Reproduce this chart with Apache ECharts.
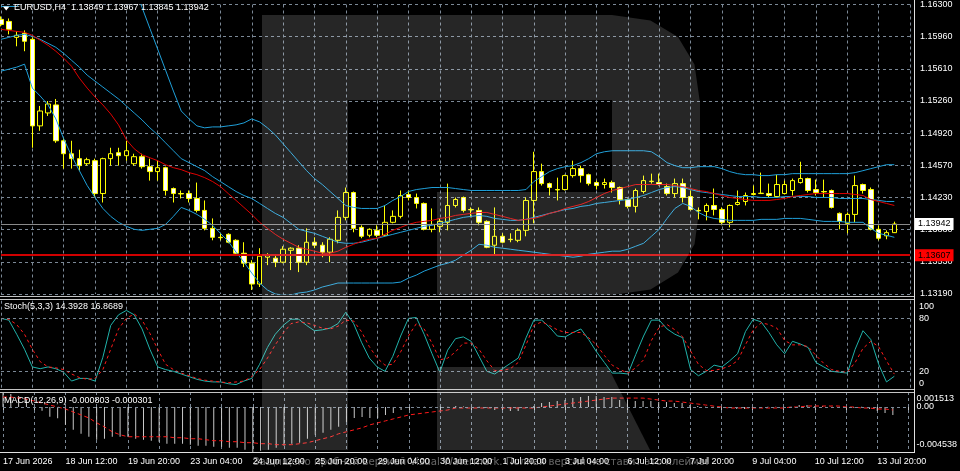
<!DOCTYPE html>
<html><head><meta charset="utf-8">
<script src="https://cdn.jsdelivr.net/npm/echarts@6/dist/echarts.min.js"></script>
<style>html,body{margin:0;padding:0;background:#000;}#c{width:960px;height:471px;}</style>
</head><body><div id="c"></div>
<script>
const xLabels = ['17 Jun 2026','18 Jun 12:00','19 Jun 20:00','23 Jun 04:00','24 Jun 12:00','25 Jun 20:00','29 Jun 04:00','30 Jun 12:00','1 Jul 20:00','3 Jul 04:00','6 Jul 12:00','7 Jul 20:00','9 Jul 04:00','10 Jul 12:00','13 Jul 20:00'];
const priceTicks = ['1.13190','1.13530','1.13880','1.14230','1.14570','1.14920','1.15260','1.15610','1.15960','1.16300'];
const priceMin = 1.1319, priceMax = 1.163;
const stochTicks = [0, 20, 80, 100];
const macdTicks = ['-0.004538', '0.00', '0.001513'];
const macdMin = -0.004538, macdMax = 0.001513;
const bidPrice = 1.13942, levelPrice = 1.13607;

const open = [1.16140,1.16118,1.15947,1.15990,1.15926,1.14996,1.15135,1.15221,1.14836,1.14697,
1.14644,1.14590,1.14622,1.14269,1.14644,1.14708,1.14676,1.14590,1.14665,1.14558,
1.14505,1.14547,1.14323,1.14269,1.14269,1.14216,1.14088,1.13895,1.13799,1.13831,
1.13767,1.13628,1.13521,1.13297,1.13585,1.13575,1.13532,1.13660,1.13682,1.13532,
1.13746,1.13714,1.13639,1.13767,1.14013,1.14280,1.13906,1.13821,1.13874,1.13821,
1.13960,1.14024,1.14259,1.14227,1.14163,1.13885,1.13917,1.13960,1.14141,1.14227,
1.14098,1.14088,1.13970,1.13714,1.13810,1.13778,1.13767,1.13874,1.14195,1.14505,
1.14376,1.14312,1.14312,1.14462,1.14537,1.14472,1.14387,1.14366,1.14387,1.14334,
1.14205,1.14131,1.14291,1.14398,1.14387,1.14344,1.14269,1.14376,1.14237,1.14088,
1.14077,1.14141,1.14098,1.13960,1.14152,1.14184,1.14259,1.14269,1.14269,1.14237,
1.14269,1.14302,1.14387,1.14430,1.14312,1.14291,1.14302,1.14056,1.13949,1.14045,
1.14366,1.14312,1.13885,1.13815,1.13849];
const high = [1.16172,1.16150,1.16011,1.16022,1.15947,1.15210,1.15263,1.15285,1.14868,1.14836,
1.14740,1.14654,1.14644,1.14654,1.14761,1.14761,1.14836,1.14697,1.14697,1.14644,
1.14622,1.14558,1.14334,1.14302,1.14302,1.14387,1.14195,1.14002,1.13842,1.13842,
1.13778,1.13746,1.13553,1.13682,1.13628,1.13607,1.13703,1.13692,1.13714,1.13895,
1.13799,1.13746,1.13799,1.14088,1.14334,1.14291,1.13928,1.13895,1.13928,1.14141,
1.14088,1.14302,1.14302,1.14269,1.14173,1.14109,1.14002,1.14376,1.14227,1.14237,
1.14120,1.14120,1.13981,1.14120,1.13842,1.13842,1.13895,1.14227,1.14718,1.14590,
1.14387,1.14440,1.14472,1.14622,1.14569,1.14483,1.14408,1.14430,1.14408,1.14344,
1.14216,1.14323,1.14462,1.14483,1.14483,1.14376,1.14430,1.14430,1.14302,1.14120,
1.14163,1.14323,1.14120,1.14152,1.14302,1.14280,1.14355,1.14494,1.14376,1.14472,
1.14408,1.14430,1.14611,1.14440,1.14419,1.14419,1.14312,1.14066,1.14066,1.14462,
1.14376,1.14334,1.13928,1.13874,1.13967];
const low = [1.16065,1.15979,1.15851,1.15798,1.14761,1.14943,1.15103,1.14814,1.14537,1.14537,
1.14515,1.14569,1.14227,1.14173,1.14569,1.14569,1.14622,1.14569,1.14537,1.14408,
1.14408,1.14248,1.14173,1.14216,1.14173,1.14066,1.13874,1.13767,1.13767,1.13735,
1.13607,1.13479,1.13233,1.13265,1.13500,1.13479,1.13521,1.13447,1.13425,1.13500,
1.13682,1.13585,1.13532,1.13735,1.13981,1.13853,1.13789,1.13799,1.13799,1.13810,
1.13949,1.14002,1.14195,1.14109,1.13874,1.13853,1.13853,1.13874,1.14120,1.14066,
1.14013,1.13928,1.13682,1.13607,1.13735,1.13746,1.13746,1.13810,1.13949,1.14355,
1.14248,1.14195,1.14302,1.14440,1.14387,1.14355,1.14312,1.14323,1.14280,1.14152,
1.14109,1.14066,1.14269,1.14376,1.14355,1.14248,1.14227,1.14173,1.14088,1.13992,
1.13981,1.14034,1.13928,1.13906,1.14141,1.14141,1.14248,1.14265,1.14227,1.14227,
1.14259,1.14248,1.14376,1.14280,1.14248,1.14227,1.14109,1.13885,1.13842,1.13960,
1.14269,1.13874,1.13767,1.13778,1.13845];
const close = [1.16086,1.16033,1.15969,1.15905,1.14996,1.15156,1.15231,1.14836,1.14697,1.14644,
1.14569,1.14633,1.14269,1.14644,1.14697,1.14676,1.14729,1.14665,1.14558,1.14505,
1.14547,1.14302,1.14269,1.14265,1.14216,1.14088,1.13895,1.13799,1.13795,1.13746,
1.13628,1.13521,1.13297,1.13596,1.13607,1.13532,1.13671,1.13682,1.13532,1.13746,
1.13714,1.13639,1.13778,1.14013,1.14280,1.13895,1.13810,1.13885,1.13821,1.13960,
1.14024,1.14248,1.14227,1.14163,1.13885,1.13938,1.13970,1.14141,1.14205,1.14088,
1.14094,1.13960,1.13692,1.13810,1.13746,1.13774,1.13874,1.14195,1.14505,1.14376,
1.14334,1.14308,1.14462,1.14537,1.14462,1.14376,1.14355,1.14387,1.14334,1.14205,
1.14131,1.14302,1.14408,1.14402,1.14366,1.14269,1.14376,1.14227,1.14098,1.14084,
1.14141,1.14098,1.13960,1.14141,1.14173,1.14248,1.14269,1.14273,1.14248,1.14366,
1.14366,1.14408,1.14430,1.14302,1.14280,1.14287,1.14120,1.13970,1.14045,1.14355,
1.14302,1.13885,1.13789,1.13849,1.13942];

const bbUpper = [1.16279,1.16279,1.16279,1.16364,1.16524,1.16653,1.16759,1.16866,1.16952,1.17005,
1.17037,1.17059,1.17080,1.17080,1.17059,1.16952,1.16727,1.16503,1.16268,1.16043,
1.15819,1.15595,1.15370,1.15156,1.15071,1.14996,1.14975,1.14985,1.14985,1.14996,
1.15007,1.15028,1.15071,1.15039,1.14975,1.14900,1.14804,1.14708,1.14611,1.14515,
1.14430,1.14366,1.14291,1.14216,1.14141,1.14120,1.14109,1.14109,1.14109,1.14141,
1.14195,1.14237,1.14291,1.14312,1.14323,1.14334,1.14334,1.14334,1.14323,1.14312,
1.14302,1.14302,1.14302,1.14302,1.14302,1.14302,1.14302,1.14312,1.14398,1.14451,
1.14505,1.14537,1.14558,1.14569,1.14601,1.14644,1.14697,1.14718,1.14729,1.14729,
1.14729,1.14729,1.14729,1.14718,1.14665,1.14601,1.14569,1.14547,1.14547,1.14558,
1.14558,1.14558,1.14537,1.14505,1.14483,1.14472,1.14472,1.14462,1.14462,1.14472,
1.14472,1.14483,1.14483,1.14483,1.14483,1.14483,1.14483,1.14483,1.14483,1.14494,
1.14515,1.14537,1.14558,1.14579,1.14579];
const maRed = [1.16033,1.16022,1.16011,1.16001,1.15969,1.15916,1.15862,1.15798,1.15723,1.15637,
1.15509,1.15402,1.15306,1.15221,1.15124,1.15007,1.14847,1.14750,1.14686,1.14654,
1.14622,1.14579,1.14547,1.14526,1.14494,1.14472,1.14440,1.14398,1.14344,1.14269,
1.14195,1.14120,1.14045,1.13960,1.13895,1.13831,1.13778,1.13735,1.13692,1.13671,
1.13650,1.13628,1.13628,1.13650,1.13692,1.13724,1.13756,1.13778,1.13789,1.13831,
1.13874,1.13906,1.13938,1.13960,1.13970,1.13981,1.14002,1.14013,1.14034,1.14045,
1.14056,1.14066,1.14066,1.14045,1.14024,1.14002,1.13981,1.13992,1.14002,1.14024,
1.14056,1.14077,1.14109,1.14131,1.14152,1.14184,1.14227,1.14269,1.14302,1.14323,
1.14344,1.14366,1.14366,1.14366,1.14366,1.14366,1.14355,1.14344,1.14323,1.14302,
1.14291,1.14269,1.14248,1.14227,1.14216,1.14205,1.14195,1.14195,1.14195,1.14205,
1.14216,1.14237,1.14248,1.14259,1.14269,1.14269,1.14269,1.14269,1.14269,1.14259,
1.14248,1.14205,1.14184,1.14163,1.14141];
const maCyan = [1.15926,1.15947,1.15969,1.15979,1.15958,1.15926,1.15883,1.15840,1.15775,1.15701,
1.15627,1.15541,1.15477,1.15413,1.15349,1.15285,1.15210,1.15135,1.15060,1.14975,
1.14900,1.14814,1.14729,1.14644,1.14601,1.14558,1.14515,1.14451,1.14398,1.14344,
1.14291,1.14248,1.14216,1.14163,1.14109,1.14056,1.14013,1.13949,1.13885,1.13863,
1.13842,1.13810,1.13778,1.13746,1.13735,1.13735,1.13746,1.13767,1.13789,1.13810,
1.13831,1.13853,1.13874,1.13895,1.13917,1.13928,1.13949,1.13970,1.13992,1.14013,
1.14024,1.14034,1.14024,1.14002,1.13992,1.13981,1.13981,1.13992,1.14013,1.14034,
1.14056,1.14077,1.14098,1.14109,1.14131,1.14141,1.14163,1.14173,1.14184,1.14195,
1.14205,1.14227,1.14248,1.14280,1.14312,1.14334,1.14344,1.14334,1.14312,1.14291,
1.14280,1.14269,1.14259,1.14248,1.14237,1.14237,1.14237,1.14227,1.14227,1.14227,
1.14237,1.14237,1.14237,1.14237,1.14227,1.14227,1.14227,1.14216,1.14216,1.14216,
1.14216,1.14205,1.14195,1.14184,1.14184];
const bbLower = [1.15584,1.15605,1.15627,1.15659,1.15402,1.15317,1.15221,1.15071,1.14858,1.14676,
1.14515,1.14355,1.14227,1.14109,1.14024,1.13960,1.13917,1.13885,1.13874,1.13885,
1.13895,1.13938,1.14024,1.14120,1.14088,1.14045,1.13992,1.13928,1.13842,1.13756,
1.13639,1.13532,1.13415,1.13308,1.13233,1.13190,1.13179,1.13179,1.13201,1.13211,
1.13233,1.13265,1.13286,1.13308,1.13308,1.13308,1.13308,1.13308,1.13308,1.13308,
1.13308,1.13318,1.13361,1.13393,1.13436,1.13468,1.13500,1.13521,1.13553,1.13607,
1.13660,1.13724,1.13714,1.13692,1.13682,1.13671,1.13660,1.13650,1.13639,1.13628,
1.13617,1.13607,1.13596,1.13585,1.13596,1.13617,1.13628,1.13639,1.13650,1.13650,
1.13671,1.13703,1.13735,1.13810,1.13885,1.14002,1.14109,1.14163,1.14131,1.14066,
1.14024,1.14002,1.13992,1.13981,1.13981,1.13981,1.13981,1.13992,1.13992,1.13992,
1.14002,1.14002,1.14002,1.13992,1.13981,1.13970,1.13970,1.13970,1.13960,1.13960,
1.13960,1.13895,1.13842,1.13821,1.13799];

const stochK = [80,78,62,45,25,23,25,23,19,9,
12,12,9,36,72,84,89,84,68,45,
25,22,20,17,14,11,9,8,8,6,
5,9,12,28,47,62,72,79,79,72,
66,67,69,74,87,74,53,35,25,20,
37,60,80,81,62,40,19,44,57,59,
54,37,20,17,23,29,35,58,78,78,
70,60,59,64,68,56,42,30,18,18,
17,39,60,78,78,68,62,58,22,15,
20,27,25,32,40,65,79,76,64,50,
40,54,51,47,30,25,20,19,18,45,
66,56,28,8,14.3928];
const stochD = [80,79,73,62,45,31,25,24,22,17,
13,11,12,22,45,68,80,85,78,63,
45,28,22,18,15,12,10,9,8,7,
8,9,14,22,35,50,63,74,76,75,
72,69,68,71,78,77,65,48,35,27,
28,42,60,74,68,52,33,35,42,52,
52,45,32,21,21,23,30,50,72,76,
72,67,64,64,64,58,50,38,27,22,
18,24,33,55,70,73,67,59,43,28,
21,21,23,26,32,50,67,75,73,69,
55,50,50,48,38,29,22,20,19,30,
46,54,48,32,16.8689];

const macdMain = [0.00151,0.0013,0.0011,0.0008,-0.0001,-0.00037,-0.00098,-0.00114,-0.0018,-0.0023,
-0.0027,-0.0030,-0.0033,-0.0032,-0.0030,-0.0030,-0.0030,-0.0032,-0.0033,-0.0034,
-0.0035,-0.0037,-0.0037,-0.0037,-0.0038,-0.0039,-0.0039,-0.0040,-0.0040,-0.0041,
-0.0041,-0.0043,-0.004538,-0.0044,-0.0043,-0.0041,-0.0039,-0.0037,-0.0036,-0.0032,
-0.0028,-0.0026,-0.0023,-0.0020,-0.0015,-0.0011,-0.0010,-0.0011,-0.0011,-0.0008,
-0.0006,-0.0003,-0.0001,0.00002,0.00002,0.00002,0.00002,0.00002,0.0001,0.00005,
0.00002,0.00002,-0.0001,-0.0003,-0.0003,-0.0004,-0.0004,-0.0001,0.0001,0.0004,
0.0005,0.0006,0.0007,0.0009,0.0010,0.0011,0.0011,0.0010,0.0010,0.0007,
0.0007,0.0006,0.0006,0.0006,0.0005,0.0005,0.0004,0.0004,0.0002,0.0001,
0.00002,0.00002,0.00002,-0.0001,-0.0002,-0.0002,-0.0001,-0.0001,0.00002,0.00002,
0.00002,0.00002,0.0002,0.0002,0.0001,0.0001,0.00002,-0.0001,-0.0001,-0.0001,
0.00002,-0.0002,-0.0004,-0.0006,-0.000803];
const macdSignal = [0.0010,0.0010,0.0009,0.0008,0.0006,0.0004,0.0002,0.0000,-0.0002,-0.0005,
-0.0008,-0.0011,-0.0016,-0.0020,-0.0025,-0.0028,-0.0030,-0.0030,-0.0030,-0.0030,
-0.0030,-0.0030,-0.0031,-0.0031,-0.0032,-0.0032,-0.0033,-0.0034,-0.0034,-0.0035,
-0.0035,-0.0036,-0.0036,-0.0037,-0.0037,-0.0038,-0.0038,-0.0038,-0.0037,-0.0036,
-0.0034,-0.0032,-0.0030,-0.0027,-0.0025,-0.0023,-0.0021,-0.0018,-0.0016,-0.0014,
-0.0012,-0.0010,-0.0008,-0.0007,-0.0006,-0.0005,-0.0004,-0.0003,-0.0001,-0.0001,
-0.0001,-0.0001,-0.0001,-0.0001,-0.0001,-0.0001,-0.0001,-0.0001,-0.0001,0.0000,
0.0001,0.0002,0.0003,0.0004,0.0005,0.0006,0.0007,0.0008,0.0009,0.0009,
0.0009,0.0009,0.0009,0.0008,0.0007,0.0006,0.0006,0.0005,0.0004,0.0003,
0.0002,0.0001,0.0000,-0.0001,-0.0001,-0.0001,-0.0001,-0.0001,-0.0001,-0.0001,
-0.0001,0.0000,0.0000,0.0001,0.0001,0.0001,0.0001,0.0001,0.0000,0.0000,
-0.0001,-0.0001,-0.0002,-0.0002,-0.000301];

const N = open.length;
const cats = Array.from({length: N + 2}, (_, i) => String(i));
const candles = open.map((o, i) => [o, close[i], low[i], high[i]]);
const priceStep = (priceMax - priceMin) / (priceTicks.length - 1);
const macdStep = -macdMin / 3;
const last = N - 1;
const header = 'EURUSD,H4  ' + [open[last], high[last], low[last], close[last]].map(v => v.toFixed(5)).join(' ');
const stochHeader = 'Stoch(5,3,3) ' + stochK[last].toFixed(4) + ' ' + stochD[last].toFixed(4);
const macdHeader = 'MACD(12,26,9) ' + macdMain[last].toFixed(6) + ' ' + macdSignal[last].toFixed(6);

const GRIDC = '#7b8896';
const FONT = 'Liberation Sans';
const dashed = {type: [3, 3], color: GRIDC, width: 1};
const lf = {color: '#ffffff', fontSize: 9, fontFamily: FONT};
const xBase = {type: 'category', data: cats, boundaryGap: false,
  axisLine: {show: false}, axisTick: {show: false}, axisLabel: {show: false},
  splitLine: {show: true, interval: 3, lineStyle: dashed}};
const BLUE = '#1f9fd8';
function pline(data, color, name, extra) {
  return Object.assign({type: 'line', name, xAxisIndex: 0, yAxisIndex: 0, data, symbol: 'none', showSymbol: false,
    lineStyle: {color, width: 1}, silent: true}, extra || {});
}
const rOutline = [[262,15],[612,15],[650.5,20.5],[678,37],[694.5,64.5],[700,103],[700,205],[694.5,244.3],[678,272.5],[650.5,289.4],[612,295],
  [437,295],[437,192],[612,192],[612,100],[348,100],[348,450],[262,450]];
const rLeg = [[437,367],[608,367],[650,450],[437,450]];

const chart = echarts.init(document.getElementById('c'), null, {renderer: 'canvas', width: 960, height: 471});
chart.setOption({
  backgroundColor: '#000',
  animation: false,
  textStyle: {fontFamily: FONT},
  grid: [
    {left: 1, right: 50, top: 3, height: 291},
    {left: 1, right: 50, top: 300.7, height: 88.3},
    {left: 1, right: 50, top: 392, height: 60}
  ],
  xAxis: [
    Object.assign({}, xBase, {gridIndex: 0}),
    Object.assign({}, xBase, {gridIndex: 1}),
    Object.assign({}, xBase, {gridIndex: 2,
      axisTick: {show: true, interval: 3, length: 3, lineStyle: {color: '#bfbfbf'}},
      axisLabel: Object.assign({show: true, interval: 7, align: 'left', margin: 5,
        formatter: (v, i) => (i % 8 === 0 && xLabels[i / 8]) ? xLabels[i / 8] : ''}, lf)})
  ],
  yAxis: [
    {gridIndex: 0, type: 'value', position: 'right', min: priceMin, max: priceMax, interval: priceStep,
      axisLine: {show: false}, axisTick: {show: false}, splitLine: {show: true, lineStyle: dashed},
      axisLabel: Object.assign({margin: 10, formatter: v => priceTicks[Math.round((v - priceMin) / priceStep)] || ''}, lf)},
    {gridIndex: 1, type: 'value', position: 'right', min: 0, max: 100, interval: 20,
      axisLine: {show: false}, axisTick: {show: false}, splitLine: {show: false},
      axisLabel: Object.assign({margin: 9,
        formatter: v => { const k = Math.round(v); if (stochTicks.indexOf(k) < 0) return '';
          if (k === 100) return '{t|100}'; if (k === 0) return '{b|0}'; return '{m|' + k + '}'; },
        rich: {t: Object.assign({padding: [11, 0, 0, 0]}, lf), b: Object.assign({padding: [0, 0, 11, 0]}, lf), m: Object.assign({}, lf)}}, lf)},
    {gridIndex: 2, type: 'value', position: 'right', min: macdMin, max: macdMax, interval: macdStep,
      axisLine: {show: false}, axisTick: {show: false}, splitLine: {show: false},
      axisLabel: Object.assign({margin: 8,
        formatter: v => { const k = Math.round((v - macdMin) / macdStep);
          if (k === 4) return '{t|' + macdTicks[2] + '}';
          if (k === 3) return '{m|' + macdTicks[1] + '}';
          if (k === 0) return '{b|' + macdTicks[0] + '}'; return ''; },
        rich: {t: Object.assign({padding: [14, 0, 0, 0]}, lf), b: Object.assign({padding: [0, 0, 14, 0]}, lf), m: Object.assign({}, lf)}}, lf)}
  ],
  series: [
    {type: 'candlestick', name: 'EURUSD', xAxisIndex: 0, yAxisIndex: 0, data: candles, barWidth: 5, silent: true,
      itemStyle: {color: '#000000', color0: '#ffffff', borderColor: '#ffff00', borderColor0: '#ffff00', borderWidth: 1}},
    pline(bbUpper, BLUE, 'BB upper'),
    pline(bbLower, BLUE, 'BB lower'),
    pline(maCyan, BLUE, 'MA slow'),
    pline(maRed, '#e00000', 'MA', {
      markLine: {silent: true, symbol: ['none', 'none'], animation: false, precision: 5, data: [
        {yAxis: bidPrice, lineStyle: {color: '#8a8a8a', width: 1, type: 'solid'},
          label: Object.assign({show: true, position: 'end', distance: 5, formatter: bidPrice.toFixed(5), backgroundColor: '#ffffff', padding: [2, 3, 1, 3]}, lf, {color: '#000'})},
        {yAxis: levelPrice, lineStyle: {color: '#d00000', width: 2, type: 'solid'},
          label: Object.assign({show: true, position: 'end', distance: 5, formatter: levelPrice.toFixed(5), backgroundColor: '#ff0000', padding: [2, 3, 1, 3]}, lf, {color: '#000'})}
      ]}}),
    {type: 'line', name: 'Stoch', xAxisIndex: 1, yAxisIndex: 1, data: stochK, symbol: 'none', silent: true,
      lineStyle: {color: '#20b2aa', width: 1},
      markLine: {silent: true, symbol: ['none', 'none'], label: {show: false}, lineStyle: {type: [3, 3], color: GRIDC, width: 1},
        data: [{yAxis: 20}, {yAxis: 80}]}},
    {type: 'line', name: 'Signal', xAxisIndex: 1, yAxisIndex: 1, data: stochD, symbol: 'none', silent: true,
      lineStyle: {color: '#ff1a1a', width: 1, type: [3, 3]}},
    {type: 'bar', name: 'MACD', xAxisIndex: 2, yAxisIndex: 2, data: macdMain, barWidth: 1, silent: true,
      itemStyle: {color: '#c8c8c8'}},
    {type: 'line', name: 'MACD signal', xAxisIndex: 2, yAxisIndex: 2, data: macdSignal, symbol: 'none', silent: true,
      lineStyle: {color: '#ff1a1a', width: 1, type: [4, 3]},
      markLine: {silent: true, symbol: ['none', 'none'], label: {show: false}, precision: 6, lineStyle: {type: [3, 3], color: GRIDC, width: 1},
        data: [{yAxis: 0}]}}
  ],
  graphic: [
    {type: 'rect', silent: true, z: 50, shape: {x: 0, y: 296, width: 914, height: 1}, style: {fill: '#c4c4c4'}},
    {type: 'rect', silent: true, z: 50, shape: {x: 0, y: 299, width: 914, height: 1}, style: {fill: '#c4c4c4'}},
    {type: 'rect', silent: true, z: 50, shape: {x: 0, y: 389, width: 914, height: 1}, style: {fill: '#c4c4c4'}},
    {type: 'rect', silent: true, z: 50, shape: {x: 0, y: 392, width: 914, height: 1}, style: {fill: '#c4c4c4'}},
    {type: 'rect', silent: true, z: 50, shape: {x: 914, y: 0, width: 1, height: 453}, style: {fill: '#e0e0e0'}},
    {type: 'rect', silent: true, z: 50, shape: {x: 0, y: 452, width: 915, height: 1}, style: {fill: '#e0e0e0'}},
    {type: 'polygon', silent: true, z: 60, shape: {points: [[3, 6.5], [9.5, 6.5], [6.2, 10.5]]}, style: {fill: '#ffffff'}},
    {type: 'text', silent: true, z: 60, x: 14, y: 8, style: {text: header, fill: '#ffffff', font: '9px "Liberation Sans"', verticalAlign: 'middle'}},
    {type: 'text', silent: true, z: 60, x: 4, y: 307, style: {text: stochHeader, fill: '#ffffff', font: '9px "Liberation Sans"', verticalAlign: 'middle'}},
    {type: 'text', silent: true, z: 60, x: 4, y: 401, style: {text: macdHeader, fill: '#ffffff', font: '9px "Liberation Sans"', verticalAlign: 'middle'}},
    {type: 'polygon', silent: true, z: 100, shape: {points: rOutline}, style: {fill: 'rgba(255,255,255,0.15)'}},
    {type: 'polygon', silent: true, z: 100, shape: {points: rLeg}, style: {fill: 'rgba(255,255,255,0.15)'}},
    {type: 'text', silent: true, z: 100, x: 253, y: 462, style: {text: 'Защищено пробной версией Visual Watermark. Полная версия не ставит это клеймо!', fill: 'rgba(255,255,255,0.4)', font: '10.2px "DejaVu Sans"', verticalAlign: 'middle'}}
  ]
});
</script>
</body></html>
